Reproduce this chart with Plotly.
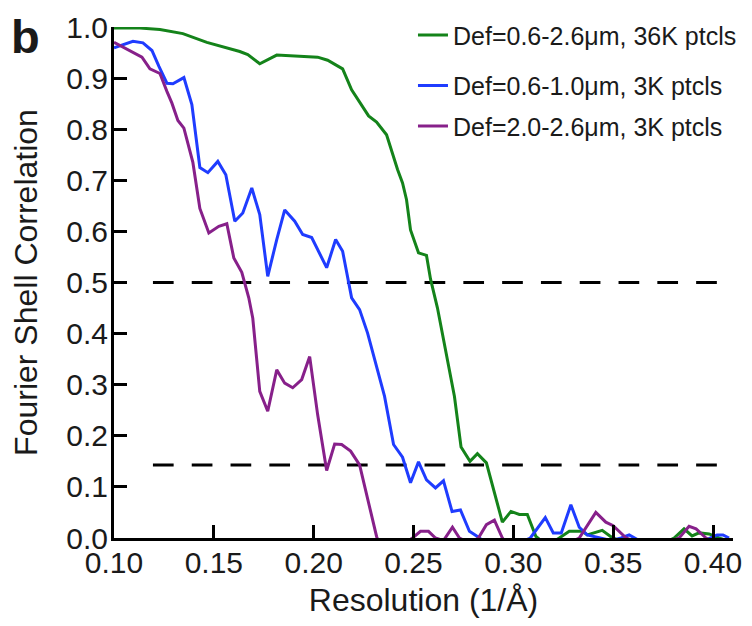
import plotly.graph_objects as go

# ---- data ----
green_x = [0.1000, 0.1130, 0.1230, 0.1345, 0.1465, 0.1565, 0.1630, 0.1670, 0.1730, 0.1815,
           0.1940, 0.2020, 0.2070, 0.2145, 0.2190, 0.2275, 0.2315, 0.2365, 0.2420, 0.2445,
           0.2465, 0.2485, 0.2525, 0.2565, 0.2585, 0.2620, 0.2705, 0.2738, 0.2783, 0.2820,
           0.2865, 0.2945, 0.2988, 0.3030, 0.3070, 0.3113, 0.3155, 0.3210, 0.3230, 0.3280,
           0.3345, 0.3370, 0.3445, 0.3490, 0.3555, 0.3655, 0.3755, 0.3805, 0.3855, 0.3895,
           0.3930, 0.3980, 0.4030, 0.4070]
green_y = [0.998, 0.998, 0.995, 0.987, 0.970, 0.959, 0.952, 0.946, 0.928, 0.945,
           0.942, 0.941, 0.935, 0.918, 0.877, 0.826, 0.814, 0.789, 0.721, 0.695,
           0.662, 0.603, 0.558, 0.553, 0.507, 0.450, 0.277, 0.178, 0.150, 0.165,
           0.147, 0.031, 0.052, 0.046, 0.046, 0.003, -0.010, -0.005, 0.000, 0.013,
           0.013, 0.006, 0.015, 0.002, -0.010, -0.020, -0.010, 0.000, 0.018, 0.004,
           0.010, 0.008, 0.000, -0.005]

blue_x = [0.1000, 0.1095, 0.1145, 0.1190, 0.1225, 0.1265, 0.1295, 0.1350, 0.1390, 0.1430,
          0.1470, 0.1520, 0.1560, 0.1605, 0.1645, 0.1690, 0.1730, 0.1770, 0.1815, 0.1855,
          0.1905, 0.1945, 0.1990, 0.2025, 0.2065, 0.2110, 0.2145, 0.2190, 0.2230, 0.2270,
          0.2315, 0.2355, 0.2400, 0.2445, 0.2485, 0.2525, 0.2565, 0.2610, 0.2650, 0.2693,
          0.2735, 0.2780, 0.2820, 0.2880, 0.2955, 0.3030, 0.3085, 0.3160, 0.3200, 0.3240,
          0.3288, 0.3330, 0.3370, 0.3410, 0.3490, 0.3540, 0.3580, 0.3630, 0.3780, 0.3930,
          0.3990, 0.4020, 0.4050, 0.4080]
blue_y = [0.959, 0.972, 0.969, 0.954, 0.923, 0.890, 0.889, 0.901, 0.848, 0.725,
          0.715, 0.737, 0.711, 0.620, 0.636, 0.685, 0.633, 0.512, 0.584, 0.642,
          0.620, 0.594, 0.588, 0.561, 0.529, 0.584, 0.561, 0.470, 0.447, 0.401,
          0.336, 0.277, 0.183, 0.158, 0.108, 0.149, 0.114, 0.098, 0.112, 0.052,
          0.055, 0.013, 0.003, -0.015, -0.020, -0.010, 0.000, 0.040, 0.010, 0.010,
          0.065, 0.021, 0.006, 0.002, -0.005, 0.000, 0.006, -0.005, -0.015, -0.010,
          0.000, 0.006, 0.006, 0.000]

purple_x = [0.1000, 0.1065, 0.1140, 0.1180, 0.1230, 0.1265, 0.1290, 0.1320, 0.1350, 0.1395,
            0.1430, 0.1475, 0.1525, 0.1565, 0.1600, 0.1640, 0.1675, 0.1695, 0.1730, 0.1770,
            0.1815, 0.1855, 0.1895, 0.1940, 0.1980, 0.2020, 0.2065, 0.2105, 0.2140, 0.2185,
            0.2230, 0.2315, 0.2355, 0.2405, 0.2455, 0.2495, 0.2535, 0.2575, 0.2610, 0.2650,
            0.2695, 0.2730, 0.2780, 0.2825, 0.2865, 0.2905, 0.2945, 0.3005, 0.3105, 0.3205,
            0.3280, 0.3330, 0.3413, 0.3463, 0.3500, 0.3565, 0.3630, 0.3730, 0.3830, 0.3880,
            0.3915, 0.3965, 0.4020, 0.4070]
purple_y = [0.970, 0.956, 0.941, 0.918, 0.909, 0.874, 0.851, 0.817, 0.802, 0.735,
            0.645, 0.597, 0.610, 0.615, 0.548, 0.520, 0.470, 0.430, 0.287, 0.248,
            0.329, 0.303, 0.294, 0.310, 0.355, 0.241, 0.132, 0.184, 0.183, 0.170,
            0.143, 0.003, -0.040, -0.030, -0.010, 0.000, 0.013, 0.013, 0.000, -0.005,
            0.021, 0.000, -0.010, 0.000, 0.026, 0.035, 0.000, -0.030, -0.040, -0.030,
            -0.010, 0.000, 0.050, 0.031, 0.024, 0.000, -0.010, -0.015, 0.000, 0.023,
            0.018, 0.000, -0.010, -0.020]

series_names = ["Def=0.6-2.6μm, 36K ptcls", "Def=0.6-1.0μm, 3K ptcls", "Def=2.0-2.6μm, 3K ptcls"]
series_colors = ["#14831a", "#1f3cff", "#87208a"]

threshold_values = [0.5, 0.143]
threshold_x = [0.1195, 0.4020]

x_ticks = [0.10, 0.15, 0.20, 0.25, 0.30, 0.35, 0.40]
y_ticks = [0.0, 0.1, 0.2, 0.3, 0.4, 0.5, 0.6, 0.7, 0.8, 0.9, 1.0]

FONT = "Liberation Sans, Arial, sans-serif"
TXT = "#1a1a1a"

fig = go.Figure()

for thr in threshold_values:
    fig.add_trace(go.Scatter(
        x=threshold_x, y=[thr, thr], mode="lines", showlegend=False, hoverinfo="skip",
        line=dict(color="black", width=3, dash="20.7px,18.1px")))

legend_ids = ["legend", "legend2", "legend3"]
for xs, ys, name, col, lg in zip([green_x, blue_x, purple_x], [green_y, blue_y, purple_y],
                                 series_names, series_colors, legend_ids):
    fig.add_trace(go.Scatter(x=xs, y=ys, mode="lines", name=name, legend=lg,
                             line=dict(color=col, width=3)))

legend_common = dict(font=dict(family=FONT, size=25, color=TXT), bgcolor="rgba(0,0,0,0)",
                     xanchor="left", yanchor="middle", x=0.483, itemwidth=30)

# the page body adds an 8px margin, so the figure is sized 8px smaller
fig.update_layout(
    width=744, height=618,
    margin=dict(l=106, r=19, t=19, b=88, autoexpand=False),
    plot_bgcolor="white", paper_bgcolor="white",
    font=dict(family=FONT, color=TXT),
    legend=dict(**legend_common, y=0.984),
    legend2=dict(**legend_common, y=0.885),
    legend3=dict(**legend_common, y=0.806),
    xaxis=dict(range=[0.10, 0.41], tickvals=x_ticks, tickformat=".2f", automargin=False,
               showgrid=False, zeroline=False, showline=True, linecolor="black", linewidth=3,
               ticks="inside", ticklen=13, tickwidth=2.5, tickcolor="black", ticklabelstandoff=-4,
               tickfont=dict(family=FONT, size=30, color=TXT),
               title=dict(text="Resolution (1/Å)", font=dict(family=FONT, size=32, color=TXT), standoff=11)),
    yaxis=dict(range=[0, 1.0], tickvals=y_ticks, tickformat=".1f", automargin=False,
               showgrid=False, zeroline=False, showline=True, linecolor="black", linewidth=3,
               ticks="inside", ticklen=13, tickwidth=2.5, tickcolor="black", ticklabelstandoff=-3,
               tickfont=dict(family=FONT, size=30, color=TXT),
               title=dict(text="Fourier Shell Correlation", font=dict(family=FONT, size=32, color=TXT), standoff=20)),
    annotations=[dict(text="<b>b</b>", xref="paper", yref="paper", x=-0.170, y=1.037,
                      xanchor="left", yanchor="top", showarrow=False,
                      font=dict(family=FONT, size=47, color=TXT))],
)

fig.write_html("out.html")
